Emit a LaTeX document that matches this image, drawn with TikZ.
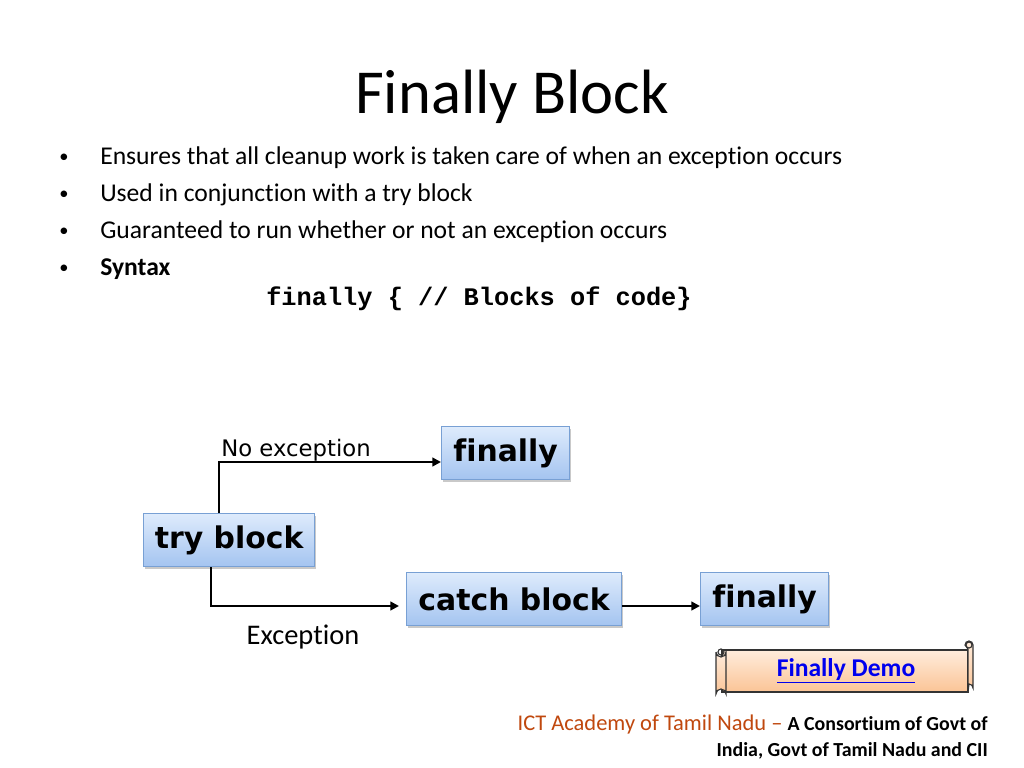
\documentclass[tikz,border=0pt]{standalone}
\usepackage{fontspec}
\setmainfont{Carlito}[Ligatures=NoCommon]
\newfontfamily\boxfont{DejaVu Sans}[Ligatures=NoCommon]
\newfontfamily\codefont{Liberation Mono}
\usetikzlibrary{shadows,arrows.meta}
\definecolor{boxtop}{RGB}{222,235,252}
\definecolor{boxbot}{RGB}{164,196,240}
\definecolor{boxline}{RGB}{120,160,212}
\definecolor{peachtop}{RGB}{255,236,220}
\definecolor{peachbot}{RGB}{251,196,150}
\definecolor{ictorange}{RGB}{192,72,14}
\definecolor{linkblue}{RGB}{0,0,238}
\tikzset{
  blockbox/.style={draw=boxline, line width=0.8pt, top color=boxtop, bottom color=boxbot,
    font=\boxfont\bfseries\fontsize{21}{24}\selectfont, inner sep=0pt, anchor=north west,
    drop shadow={shadow xshift=1.2pt, shadow yshift=-1.5pt, opacity=0.35, fill=black!60}},
  conn/.style={line width=1.7pt, -{Triangle[length=6pt,width=6pt]}},
  bullettext/.style={anchor=west, font=\fontsize{18}{22}\selectfont, inner sep=0pt},
  bulletdot/.style={anchor=center, font=\fontsize{13}{16}\selectfont, inner sep=0pt},
}
\begin{document}
\begin{tikzpicture}[x=0.703125pt,y=-0.703125pt]
\useasboundingbox (0,0) rectangle (1024,768);
\fill[white] (0,0) rectangle (1024,768);
% title
\node[font=\fontsize{44}{50}\selectfont, inner sep=0pt] (title) at (512,97) {Finally Block};
% bullets
\node[bulletdot] (b1) at (64,158) {\textbullet};
\node[bullettext] (t1) at (100,158) {Ensures that all cleanup work is taken care of when an exception occurs};
\node[bulletdot] (b2) at (64,195) {\textbullet};
\node[bullettext] (t2) at (100,195) {Used in conjunction with a try block};
\node[bulletdot] (b3) at (64,232) {\textbullet};
\node[bullettext] (t3) at (100,232) {Guaranteed to run whether or not an exception occurs};
\node[bulletdot] (b4) at (64,269) {\textbullet};
\node[bullettext] (t4) at (100,269) {\bfseries Syntax};
\node[anchor=west, inner sep=0pt, font=\codefont\bfseries\fontsize{17.8}{20}\selectfont] (code) at (266,299) {finally \{ // Blocks of code\}};
% boxes
\node[blockbox, minimum width=128*0.703125pt, minimum height=53*0.703125pt] (fin1) at (441,426) {finally};
\node[blockbox, minimum width=171*0.703125pt, minimum height=53*0.703125pt] (try) at (143,513) {try block};
\node[blockbox, minimum width=215*0.703125pt, minimum height=53*0.703125pt] (catch) at (406,572) {catch block};
\node[blockbox, minimum width=128*0.703125pt, minimum height=53*0.703125pt] (fin2) at (700,572) {finally};
% connectors
\coordinate (c1) at (219,462);
\coordinate (c2) at (211,606);
\coordinate (c3) at (399,606);
\draw[conn] (try.north west -| c1) -- (c1) -- (fin1.west |- c1);
\draw[conn] (try.south west -| c2) -- (c2) -- (c3);
\draw[conn] (catch.east |- c3) -- (fin2.west |- c3);
% labels
\node[anchor=west, inner sep=0pt, font=\boxfont\fontsize{16}{18}\selectfont] (lno) at (221,450) {No exception};
\node[inner sep=0pt, font=\fontsize{20}{24}\selectfont] (lex) at (303,637) {Exception};
% scroll banner
\begin{scope}[line width=0.8pt]
\shade[top color=peachtop, bottom color=peachbot, draw=black!80]
  (722,650) -- (968,650) -- (968,692) -- (722,692) -- cycle;
\shade[top color=peachtop, bottom color=peachbot, draw=black!80]
  (716,652) -- (716,694) arc[start angle=180,end angle=360,radius=5] -- (726,652) arc[start angle=0,end angle=180,radius=5];
\draw[black!80] (721,652) circle[radius=3];
\shade[top color=peachtop, bottom color=peachbot, draw=black!80]
  (965,645) arc[start angle=180,end angle=360,radius=4] -- (973,688) arc[start angle=0,end angle=-90,radius=4] -- (968,692) -- (968,649) -- cycle;
\draw[black!80] (969,645) circle[radius=3];
\end{scope}
\node[inner sep=0pt, text=linkblue, font=\bfseries\fontsize{18}{20}\selectfont] (demo) at (846,671) {\underline{Finally Demo}};
% footer
\node[anchor=east, inner sep=0pt, font=\fontsize{15.8}{18}\selectfont] (foot1) at (988,725)
  {\textcolor{ictorange}{ICT Academy of Tamil Nadu --} \fontsize{14}{16}\selectfont\bfseries A Consortium of Govt of};
\node[anchor=east, inner sep=0pt, font=\bfseries\fontsize{14}{16}\selectfont] (foot2) at (988,751)
  {India, Govt of Tamil Nadu and CII};
\end{tikzpicture}
\end{document}
